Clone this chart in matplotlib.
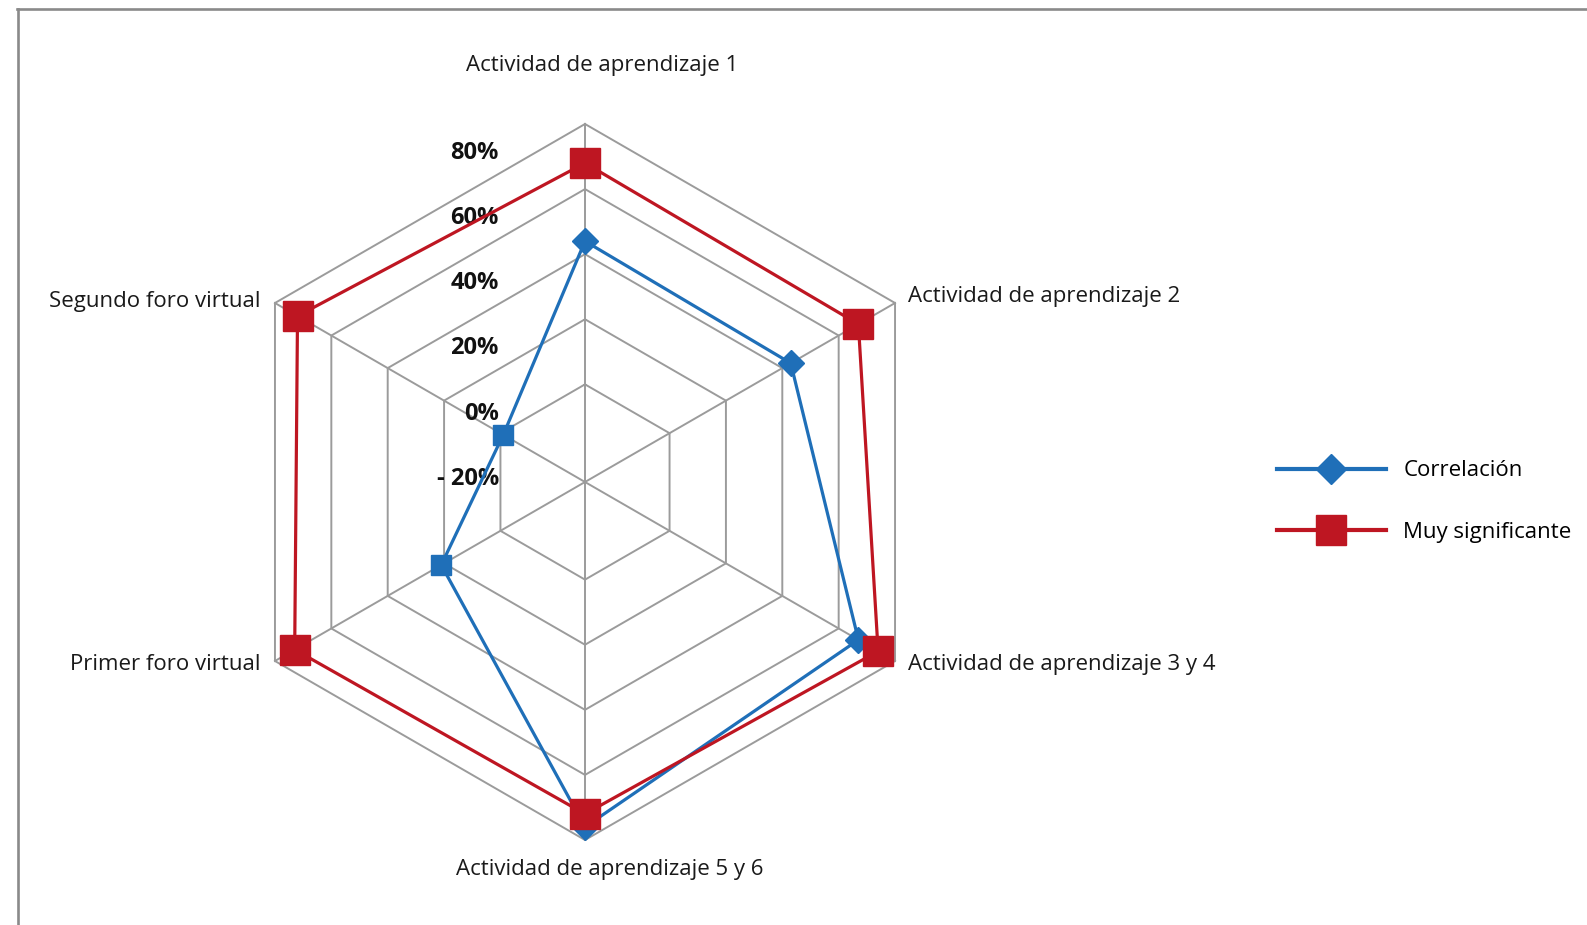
import numpy as np
import matplotlib
matplotlib.use("Agg")
import matplotlib.pyplot as plt
from matplotlib.lines import Line2D

# Radar axes, clockwise from the top
categories = [
    "Actividad de aprendizaje 1",
    "Actividad de aprendizaje 2",
    "Actividad de aprendizaje 3 y 4",
    "Actividad de aprendizaje 5 y 6",
    "Primer foro virtual",
    "Segundo foro virtual",
]

# Series values (percent)
correlacion = [44, 43, 67, 76, 21, -1]
muy_significante = [68, 67, 74, 72, 73, 72]

series_names = ["Correlación", "Muy significante"]

# Radial scale
tick_values = [-20, 0, 20, 40, 60, 80]
tick_labels = ["- 20%", "0%", "20%", "40%", "60%", "80%"]
r_min, r_max = -30, 80

BLUE = "#1f6fb8"
RED = "#be1622"
GRID = "#9b9b9b"
FONT = "Open Sans"

plt.rcParams["font.family"] = [FONT, "DejaVu Sans"]

W, H = 1587, 925
fig = plt.figure(figsize=(W / 100, H / 100), dpi=100)
fig.patch.set_facecolor("white")

# Polar axes centred at (585, 482) px with a 358 px radius
cx, cy, R = 585, 482, 358
ax = fig.add_axes([(cx - R) / W, (H - cy - R) / H, 2 * R / W, 2 * R / H],
                  projection="polar")
ax.set_theta_zero_location("N")
ax.set_theta_direction(-1)
ax.set_ylim(r_min, r_max)
ax.grid(False)
ax.spines["polar"].set_visible(False)
ax.set_xticks([])
ax.set_yticks([])
ax.patch.set_alpha(0)

n = len(categories)
angles = np.arange(n) * 2 * np.pi / n
closed = np.append(angles, angles[0])

# Hexagonal grid rings and spokes
for lv in tick_values[1:]:
    ax.plot(closed, [lv] * (n + 1), color=GRID, lw=1.4, zorder=1,
            solid_joinstyle="miter", clip_on=False)
for a in angles:
    ax.plot([a, a], [r_min, r_max], color=GRID, lw=1.4, zorder=1, clip_on=False)

# Radial tick labels along the top spoke
for lv, lab in zip(tick_values, tick_labels):
    ax.annotate(lab, xy=(0, lv), xytext=(-62, -21), textcoords="offset points",
                ha="right", va="center", fontsize=17, fontweight="bold",
                color="#111111", annotation_clip=False)

# Correlación series
corr_closed = np.append(correlacion, correlacion[0])
ax.plot(closed, corr_closed, color=BLUE, lw=2.3, zorder=3, clip_on=False)
ax.plot(angles[:4], correlacion[:4], linestyle="none", marker="D", ms=13,
        color=BLUE, zorder=3, clip_on=False)
ax.plot(angles[4:], correlacion[4:], linestyle="none", marker="s", ms=15,
        color=BLUE, zorder=3, clip_on=False)

# Muy significante series
red_closed = np.append(muy_significante, muy_significante[0])
ax.plot(closed, red_closed, color=RED, lw=2.3, marker="s", ms=21,
        markevery=list(range(n)), zorder=4, clip_on=False)

# Category labels around the outer ring
label_style = [
    ((12, 42), "center", "center"),
    ((9.5, 5), "left", "center"),
    ((9.5, -2.5), "left", "center"),
    ((18, -21.5), "center", "center"),
    ((-10.5, -2.5), "right", "center"),
    ((-10.5, 0.8), "right", "center"),
]
for a, cat, (off, ha, va) in zip(angles, categories, label_style):
    ax.annotate(cat, xy=(a, r_max), xytext=off, textcoords="offset points",
                ha=ha, va=va, fontsize=16, color="#1a1a1a",
                annotation_clip=False)

# Legend
handles = [
    Line2D([], [], color=BLUE, lw=3, marker="D", ms=15),
    Line2D([], [], color=RED, lw=3, marker="s", ms=21),
]
fig.legend(handles, series_names, loc="center left",
           bbox_to_anchor=(1277 / W, 1 - 501.5 / H), frameon=False,
           fontsize=16, handlelength=4.9, handletextpad=0.78,
           labelspacing=1.82, borderpad=0, borderaxespad=0)

# Outer frame edges (top and left)
fig.add_artist(Line2D([17 / W, 1], [1 - 9 / H, 1 - 9 / H],
                      color="#8a8a8a", lw=1.9, transform=fig.transFigure))
fig.add_artist(Line2D([18 / W, 18 / W], [1 - 9 / H, 0],
                      color="#8a8a8a", lw=1.9, transform=fig.transFigure))

fig.savefig("out.png", dpi=100, facecolor="white")
